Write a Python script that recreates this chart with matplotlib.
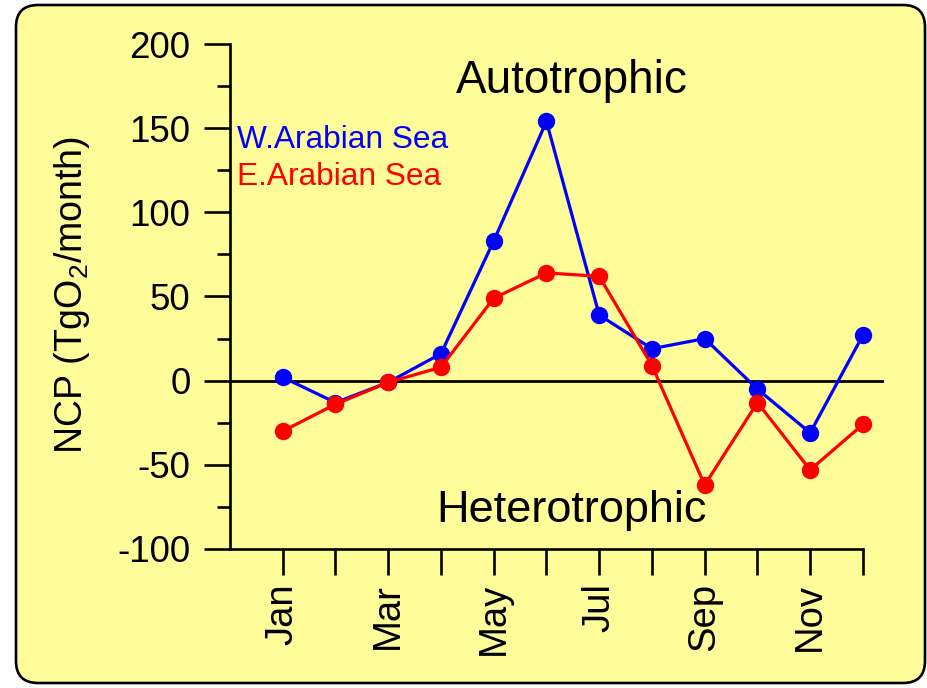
import matplotlib
matplotlib.use("Agg")
import matplotlib.pyplot as plt
from matplotlib.patches import FancyBboxPatch

plt.rcParams['font.family'] = ['Liberation Sans', 'DejaVu Sans']
plt.rcParams['mathtext.fontset'] = 'custom'
plt.rcParams['mathtext.rm'] = 'Liberation Sans'
plt.rcParams['mathtext.it'] = 'Liberation Sans:italic'
plt.rcParams['axes.unicode_minus'] = False

months = list(range(1, 13))
month_labels = ['Jan', '', 'Mar', '', 'May', '', 'Jul', '', 'Sep', '', 'Nov', '']
west = [2, -13, -1, 16, 83, 154, 39, 19, 25, -5, -31, 27]
east = [-30, -14, -1, 8, 49, 64, 62, 9, -62, -13, -53, -26]

bg = '#FFFC9A'

fig = plt.figure(figsize=(9.28, 6.88), dpi=100, facecolor='white')

# rounded frame behind everything
frame = FancyBboxPatch((0.16, 0.05), 9.09, 6.78,
                       boxstyle="round,pad=0,rounding_size=0.22",
                       transform=fig.dpi_scale_trans,
                       facecolor=bg, edgecolor='black', linewidth=1.9,
                       zorder=-5)
fig.patches.append(frame)

ax = fig.add_axes([230 / 928, 1 - 549 / 688, (884 - 230) / 928, (549 - 44) / 688])
ax.set_facecolor('none')
ax.set_zorder(2)

ax.axhline(0, color='black', linewidth=2, zorder=1)
ax.plot(months, west, color='#0000FF', linewidth=2.3, marker='o',
        markersize=11.5, zorder=3)
ax.plot(months, east, color='#FF0000', linewidth=2.3, marker='o',
        markersize=11.5, zorder=4)

ax.set_xlim(0, 12.4)
ax.set_ylim(-100, 200)

for s in ['top', 'right']:
    ax.spines[s].set_visible(False)
ax.spines['left'].set_linewidth(1.9)
ax.spines['bottom'].set_linewidth(1.9)
ax.spines['bottom'].set_bounds(0, 12)

ax.set_xticks(months)
ax.set_xticklabels(month_labels, rotation=90, fontsize=27.5)
ax.set_yticks(range(-100, 201, 50))
ax.set_yticks(range(-100, 201, 25), minor=True)
ax.tick_params(axis='y', which='major', length=18.5, width=1.9, labelsize=26.5, pad=10)
ax.tick_params(axis='y', which='minor', length=9.5, width=1.9)
ax.tick_params(axis='x', which='major', length=18.5, width=1.9, pad=6)

ax.text(6.49, 171, 'Autotrophic', fontsize=33, ha='center', va='baseline')
ax.text(6.47, -84, 'Heterotrophic', fontsize=32.5, ha='center', va='baseline')
ax.text(0.13, 138.5, 'W.Arabian Sea', color='#0000FF', fontsize=22.8, va='baseline')
ax.text(0.13, 116, 'E.Arabian Sea', color='#FF0000', fontsize=22.8, va='baseline')

fig.text(72 / 928, 1 - 295 / 688, 'NCP (TgO$_2$/month)', rotation=90,
         fontsize=27, ha='center', va='center')

fig.savefig('out.png', dpi=100, facecolor='white')
